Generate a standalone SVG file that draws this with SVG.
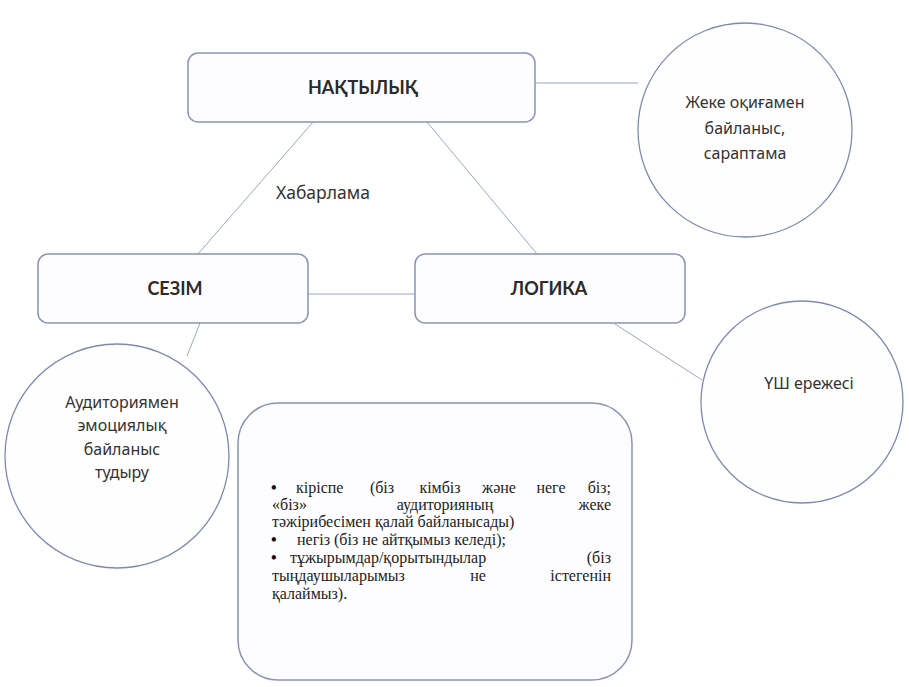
<svg xmlns="http://www.w3.org/2000/svg" width="909" height="687" viewBox="0 0 909 687">
<style>
.box{fill:#fdfdff;stroke:#8a93b6;stroke-width:1.5}
.circ{fill:#fefeff;stroke:#7e89b0;stroke-width:1.3}
.conn{fill:none;stroke:#9aa6c8;stroke-width:1}
.lbl{font-family:Lato,"Liberation Sans",sans-serif;font-weight:bold;font-size:18px;fill:#2b2b2b;text-anchor:middle}
.ct{font-family:"Noto Sans","Liberation Sans",sans-serif;font-size:16px;fill:#333;text-anchor:middle}
.bt{font-family:"Liberation Serif","Times New Roman",serif;font-size:16px;fill:#222}
.bu{font-family:"Liberation Serif","Times New Roman",serif;font-size:16px;font-weight:bold;fill:#111}
</style>
<rect width="909" height="687" fill="#ffffff"/>
<g id="connectors">
<line class="conn" x1="313" y1="122" x2="198" y2="254"/>
<line class="conn" x1="427" y1="122" x2="537" y2="254"/>
<line class="conn" x1="308" y1="294" x2="415" y2="294"/>
<line class="conn" x1="535" y1="83" x2="638" y2="83"/>
<line class="conn" x1="200" y1="323" x2="187" y2="356"/>
<line class="conn" x1="615" y1="324" x2="702" y2="380"/>
</g>
<g id="label-habarlama">
<text x="323" y="199" class="ct" style="font-size:17.5px">Хабарлама</text>
</g>
<g id="node-naktylyk">
<rect class="box" x="188" y="53" width="347" height="69" rx="10"/>
<text class="lbl" x="363" y="94">НАҚТЫЛЫҚ</text>
</g>
<g id="node-sezim">
<rect class="box" x="38" y="254" width="270" height="69" rx="10"/>
<text class="lbl" x="175" y="295">СЕЗІМ</text>
</g>
<g id="node-logika">
<rect class="box" x="415" y="254" width="270" height="69" rx="10"/>
<text class="lbl" x="549" y="295">ЛОГИКА</text>
</g>
<g id="node-circle-top">
<circle class="circ" cx="745" cy="130" r="107"/>
<text class="ct" x="745" y="108">Жеке оқиғамен</text>
<text class="ct" x="745" y="134">байланыс,</text>
<text class="ct" x="745" y="159">сараптама</text>
</g>
<g id="node-circle-left">
<circle class="circ" cx="117" cy="456" r="112"/>
<text class="ct" x="122" y="408">Аудиториямен</text>
<text class="ct" x="122" y="431">эмоциялық</text>
<text class="ct" x="122" y="455">байланыс</text>
<text class="ct" x="122" y="478">тудыру</text>
</g>
<g id="node-circle-right">
<circle class="circ" cx="802" cy="402" r="101"/>
<text class="ct" x="809" y="389">ҮШ ережесі</text>
</g>
<g id="node-bottom">
<path class="box" d="M278,403 H592 A40,40 0 0 1 632,443 V640 A40,40 0 0 1 592,680 H278 A40,40 0 0 1 238,640 V443 A40,40 0 0 1 278,403 Z"/>
<text class="bu" x="271" y="493">•</text>
<text class="bt" x="296" y="493">кіріспе</text>
<text class="bt" x="382" y="493" text-anchor="middle">(біз</text>
<text class="bt" x="440" y="493" text-anchor="middle">кімбіз</text>
<text class="bt" x="499" y="493" text-anchor="middle">және</text>
<text class="bt" x="551" y="493" text-anchor="middle">неге</text>
<text class="bt" x="611" y="493" text-anchor="end">біз;</text>
<text class="bt" x="272" y="510">«біз»</text>
<text class="bt" x="445" y="510" text-anchor="middle">аудиторияның</text>
<text class="bt" x="611" y="510" text-anchor="end">жеке</text>
<text class="bt" x="272" y="527">тәжірибесімен қалай байланысады)</text>
<text class="bu" x="271" y="545">•</text>
<text class="bt" x="297" y="545">негіз (біз не айтқымыз келеді);</text>
<text class="bu" x="271" y="563">•</text>
<text class="bt" x="290" y="563">тұжырымдар/қорытындылар</text>
<text class="bt" x="611" y="563" text-anchor="end">(біз</text>
<text class="bt" x="272" y="581">тыңдаушыларымыз</text>
<text class="bt" x="478" y="581" text-anchor="middle">не</text>
<text class="bt" x="611" y="581" text-anchor="end">істегенін</text>
<text class="bt" x="272" y="599">қалаймыз).</text>
</g>
</svg>
